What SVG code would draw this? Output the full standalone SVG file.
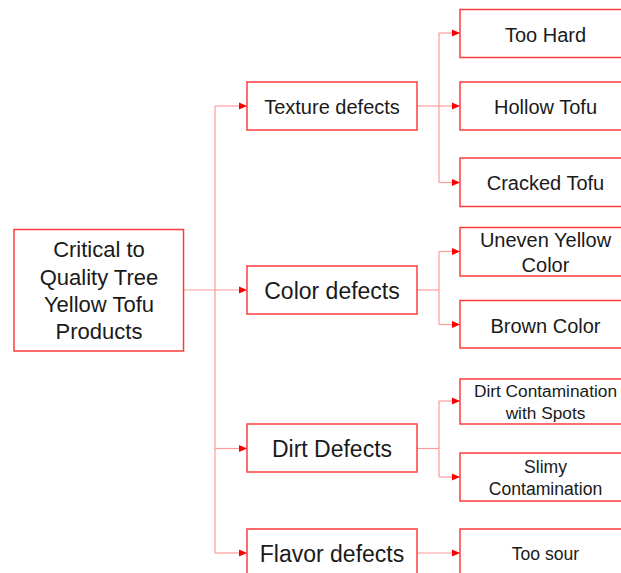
<svg xmlns="http://www.w3.org/2000/svg" width="621" height="573" viewBox="0 0 621 573">
<style>
.box{fill:#ffffff;stroke:#ff3c3c;stroke-width:1.5}
.t{font-family:"Liberation Sans",Arial,sans-serif;fill:#1a1a1a;text-anchor:middle}
.c{fill:none;stroke:#ff9a9a;stroke-width:1.2}
</style>
<defs>
<marker id="ah" viewBox="0 0 8 8" refX="8" refY="4" markerWidth="8" markerHeight="8" markerUnits="userSpaceOnUse" orient="auto">
<path d="M0,0.5 L8,4 L0,7.5 Z" fill="#ff0000"/>
</marker>
</defs>
<rect width="621" height="573" fill="#ffffff"/>
<g id="connectors">
<path class="c" d="M215,106 V553"/>
<path class="c" d="M183,290 H247" marker-end="url(#ah)"/>
<path class="c" d="M215,106 H247" marker-end="url(#ah)"/>
<path class="c" d="M215,448.5 H247" marker-end="url(#ah)"/>
<path class="c" d="M215,553 H247" marker-end="url(#ah)"/>
<path class="c" d="M417,106 H439"/>
<path class="c" d="M439,33 V182.5"/>
<path class="c" d="M439,33 H460" marker-end="url(#ah)"/>
<path class="c" d="M439,106 H460" marker-end="url(#ah)"/>
<path class="c" d="M439,182.5 H460" marker-end="url(#ah)"/>
<path class="c" d="M417,290 H439"/>
<path class="c" d="M439,251.5 V324.5"/>
<path class="c" d="M439,251.5 H460" marker-end="url(#ah)"/>
<path class="c" d="M439,324.5 H460" marker-end="url(#ah)"/>
<path class="c" d="M417,448.5 H439"/>
<path class="c" d="M439,401 V477"/>
<path class="c" d="M439,401 H460" marker-end="url(#ah)"/>
<path class="c" d="M439,477 H460" marker-end="url(#ah)"/>
<path class="c" d="M417,553 H460" marker-end="url(#ah)"/>
</g>
<g id="root">
<rect class="box" x="14" y="229.5" width="169.5" height="121.5"/>
<text class="t" font-size="22"><tspan x="99" y="257">Critical to</tspan><tspan x="99" y="284.5">Quality Tree</tspan><tspan x="99" y="311.5">Yellow Tofu</tspan><tspan x="99" y="339">Products</tspan></text>
</g>
<g id="texture">
<rect class="box" x="247" y="82" width="170" height="48"/>
<text class="t" font-size="20" x="332" y="114">Texture defects</text>
</g>
<g id="color">
<rect class="box" x="247" y="266" width="170" height="48"/>
<text class="t" font-size="23" x="332" y="299">Color defects</text>
</g>
<g id="dirt">
<rect class="box" x="247" y="424" width="170" height="48"/>
<text class="t" font-size="23" x="332" y="457">Dirt Defects</text>
</g>
<g id="flavor">
<rect class="box" x="247" y="529" width="170" height="48"/>
<text class="t" font-size="23" x="332" y="562">Flavor defects</text>
</g>
<g id="too-hard">
<rect class="box" x="460" y="9.5" width="171" height="48"/>
<text class="t" font-size="20" x="545.5" y="41.5">Too Hard</text>
</g>
<g id="hollow-tofu">
<rect class="box" x="460" y="82" width="171" height="48"/>
<text class="t" font-size="20" x="545.5" y="114">Hollow Tofu</text>
</g>
<g id="cracked-tofu">
<rect class="box" x="460" y="158" width="171" height="48.5"/>
<text class="t" font-size="20" x="545.5" y="190">Cracked Tofu</text>
</g>
<g id="uneven-yellow">
<rect class="box" x="460" y="227.5" width="171" height="48.5"/>
<text class="t" font-size="20"><tspan x="545.5" y="246.5">Uneven Yellow</tspan><tspan x="545.5" y="271.5">Color</tspan></text>
</g>
<g id="brown-color">
<rect class="box" x="460" y="300.5" width="171" height="47.5"/>
<text class="t" font-size="20" x="545.5" y="332.5">Brown Color</text>
</g>
<g id="dirt-contamination">
<rect class="box" x="460" y="379" width="171" height="45"/>
<text class="t" font-size="17.3"><tspan x="545.5" y="396.5">Dirt Contamination</tspan><tspan x="545.5" y="418.5">with Spots</tspan></text>
</g>
<g id="slimy">
<rect class="box" x="460" y="453" width="171" height="48"/>
<text class="t" font-size="17.6"><tspan x="545.5" y="473">Slimy</tspan><tspan x="545.5" y="495">Contamination</tspan></text>
</g>
<g id="too-sour">
<rect class="box" x="460" y="529" width="171" height="48"/>
<text class="t" font-size="17.6" x="545.5" y="560">Too sour</text>
</g>
</svg>
